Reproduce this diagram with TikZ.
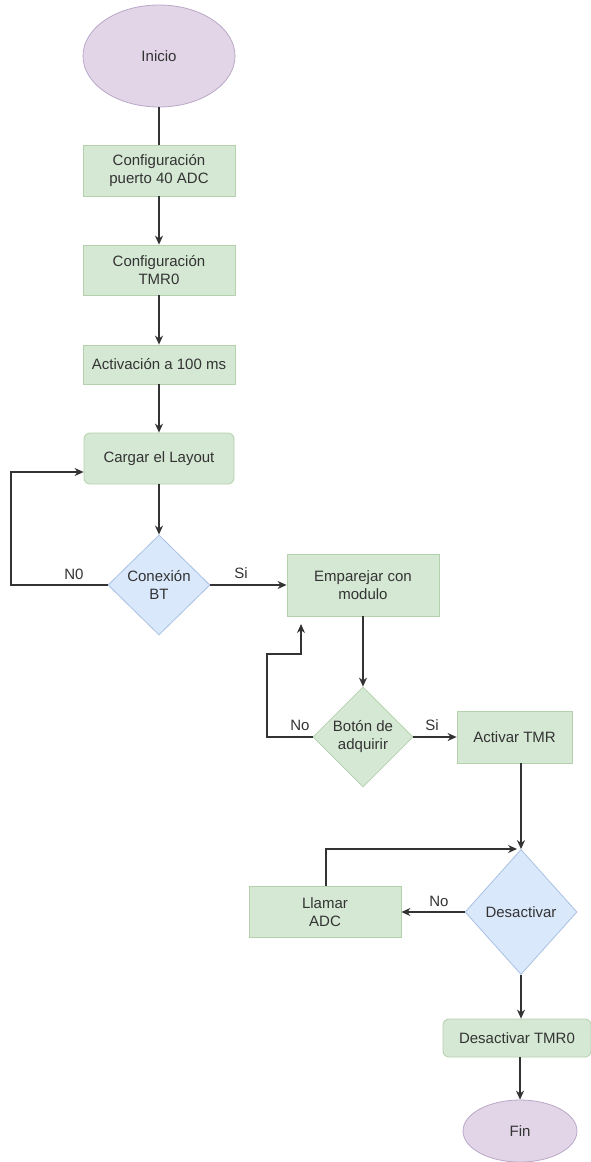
\documentclass[tikz,border=0pt]{standalone}
\usepackage{fontspec}
\setmainfont{Liberation Sans}
\usetikzlibrary{shapes.geometric,arrows.meta}
\definecolor{gfill}{HTML}{D5E8D4}
\definecolor{gline}{HTML}{B5D0AD}
\definecolor{bfill}{HTML}{DAE8FC}
\definecolor{bline}{HTML}{A9C1E2}
\definecolor{pfill}{HTML}{E1D5E7}
\definecolor{pline}{HTML}{BBA8C8}
\definecolor{ink}{HTML}{333333}
\tikzset{
  every node/.style={font=\fontsize{15}{18}\selectfont, text=ink, align=center, inner sep=0pt},
  procbox/.style={rectangle, draw=gline, fill=gfill, line width=0.8pt},
  roundbox/.style={procbox, rounded corners=6pt},
  decision/.style={diamond, draw=gline, fill=gfill, line width=0.8pt, aspect=1},
  bdecision/.style={decision, draw=bline, fill=bfill},
  terminal/.style={ellipse, draw=pline, fill=pfill, line width=0.8pt},
  link/.style={draw=ink, line width=1.2pt},
  arr/.style={link, -{Stealth[length=9pt,width=8pt]}},
  lbl/.style={font=\fontsize{15}{18}\selectfont, text=ink}
}
\begin{document}
\begin{tikzpicture}[x=1pt,y=-1pt]
  \fill[white] (0,0) rectangle (591,1162);
  \useasboundingbox (0,0) rectangle (591,1162);

  % main column
  \node[terminal, minimum width=152pt, minimum height=102pt] (inicio) at (159,56) {Inicio};
  \node[procbox, minimum width=152pt, minimum height=51pt] (cfg1) at (159,170.5) {Configuración\\puerto 40 ADC};
  \node[procbox, minimum width=152pt, minimum height=50pt] (cfg2) at (159,270) {Configuración\\TMR0};
  \node[procbox, minimum width=152pt, minimum height=39pt] (act) at (159,364.5) {Activación a 100 ms};
  \node[roundbox, minimum width=150pt, minimum height=51pt] (cargar) at (159,458.5) {Cargar el Layout};
  \node[bdecision, minimum width=102pt, minimum height=100pt] (conex) at (159,585) {};
  \node at (159,585) {Conexión\\BT};

  % pairing branch
  \node[procbox, minimum width=152pt, minimum height=62pt] (empar) at (363,585) {Emparejar con\\modulo};
  \node[decision, minimum width=100pt, minimum height=100pt] (boton) at (363,737) {};
  \node at (363,737) {Botón de\\adquirir};
  \node[procbox, minimum width=115pt, minimum height=52pt] (activar) at (514.5,737) {Activar TMR};

  % acquisition loop
  \node[bdecision, minimum width=112pt, minimum height=125pt] (desact) at (521,912) {};
  \node at (521,912) {Desactivar};
  \node[procbox, minimum width=152pt, minimum height=51pt] (llamar) at (325,912) {Llamar\\ADC};
  \node[roundbox, minimum width=148pt, minimum height=38pt] (destmr) at (517,1038) {Desactivar TMR0};
  \node[terminal, minimum width=114pt, minimum height=62pt] (fin) at (520,1131) {Fin};

  % connectors
  \draw[link] (inicio) -- (cfg1);
  \draw[arr] (cfg1) -- (cfg2);
  \draw[arr] (cfg2) -- (act);
  \draw[arr] (act) -- (cargar);
  \draw[arr] (cargar) -- (conex);

  \coordinate (l1) at (11,472);
  \draw[arr] (conex.west) -| (l1) -- (l1 -| cargar.west);
  \node[lbl] at (74,574) {N0};

  \draw[arr] (conex.east) -- (empar.west);
  \node[lbl] at (241,573) {Si};

  \draw[arr] (empar) -- (boton);

  \coordinate (l2a) at (267,654);
  \coordinate (l2b) at (301,654);
  \coordinate (l2c) at (301,624);
  \draw[arr] (boton.west) -| (l2a) -- (l2b) -- (l2c);
  \node[lbl] at (300,725) {No};

  \draw[arr] (boton.east) -- (activar.west);
  \node[lbl] at (432,725) {Si};

  \draw[arr] (desact.north |- activar.south) -- (desact.north);

  \draw[arr] (desact.west) -- (llamar.east);
  \node[lbl] at (439,901) {No};

  \coordinate (l3a) at (326,849);
  \coordinate (l3b) at (517,849);
  \draw[arr] (llamar.north -| l3a) -- (l3a) -- (l3b);

  \draw[arr] (desact.south) -- (desact.south |- destmr.north);
  \draw[arr] (fin.north |- destmr.south) -- (fin.north);
\end{tikzpicture}
\end{document}
